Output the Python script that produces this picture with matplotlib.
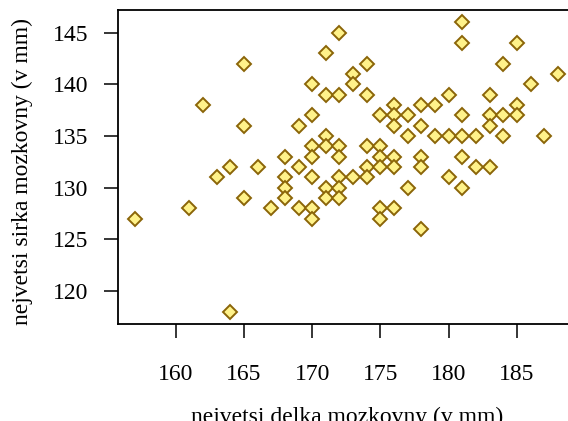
import matplotlib
matplotlib.use('Agg')
import matplotlib.pyplot as plt
import numpy as np

plt.rcParams['font.family'] = ['Liberation Serif', 'DejaVu Serif']

# head length (x) and head breadth (y), in mm
delka = [157, 161, 162, 163, 164, 164, 165, 165, 165, 166,
         167, 168, 168, 168, 168, 169, 169, 169, 170, 170,
         170, 170, 170, 170, 170, 171, 171, 171, 171, 171,
         171, 172, 172, 172, 172, 172, 172, 172, 173, 173,
         173, 174, 174, 174, 174, 174, 175, 175, 175, 175,
         175, 175, 176, 176, 176, 176, 176, 176, 177, 177,
         177, 178, 178, 178, 178, 178, 179, 179, 180, 180,
         180, 181, 181, 181, 181, 181, 181, 182, 182, 183,
         183, 183, 183, 184, 184, 184, 185, 185, 185, 186,
         187, 188]
sirka = [127, 128, 138, 131, 132, 118, 142, 136, 129, 132,
         128, 133, 131, 130, 129, 136, 132, 128, 140, 137,
         134, 133, 131, 128, 127, 143, 139, 135, 134, 130,
         129, 145, 139, 134, 133, 131, 130, 129, 141, 140,
         131, 142, 139, 134, 132, 131, 137, 134, 133, 132,
         128, 127, 138, 137, 136, 133, 132, 128, 137, 135,
         130, 138, 136, 133, 132, 126, 138, 135, 139, 135,
         131, 146, 144, 137, 135, 133, 130, 135, 132, 139,
         137, 136, 132, 142, 137, 135, 144, 138, 137, 140,
         135, 141]

xticks = [160, 165, 170, 175, 180, 185]
yticks = [120, 125, 130, 135, 140, 145]

fig = plt.figure(figsize=(5.68, 4.21), dpi=100)
# plot box runs a little past the right edge of the picture
ax = fig.add_axes([117.5/568, 1 - 323.5/421, 459/568, 313.5/421])

ax.plot(delka, sirka, linestyle='none', marker='D', markersize=7.1,
        markerfacecolor='#fff28a', markeredgecolor='#8b6508',
        markeredgewidth=1.4)

ax.set_xlim(155.74, 189.36)
ax.set_ylim(116.85, 147.2)
ax.set_xticks(xticks)
ax.set_yticks(yticks)

for s in ['left', 'top', 'bottom']:
    ax.spines[s].set_linewidth(1.3)
ax.spines['right'].set_visible(False)

ax.tick_params(axis='both', direction='out', length=10, width=1.1,
               labelsize=17)
ax.tick_params(axis='x', pad=19)
ax.tick_params(axis='y', pad=11)

ax.set_xlabel('nejvetsi delka mozkovny (v mm)', fontsize=17, va='baseline')
ax.xaxis.set_label_coords(347/568, 1 - 423/421, transform=fig.transFigure)
ax.set_ylabel('nejvetsi sirka mozkovny (v mm)', fontsize=17, va='center')
ax.yaxis.set_label_coords(22.5/568, 1 - 171.5/421, transform=fig.transFigure)

fig.savefig('out.png', dpi=100)
